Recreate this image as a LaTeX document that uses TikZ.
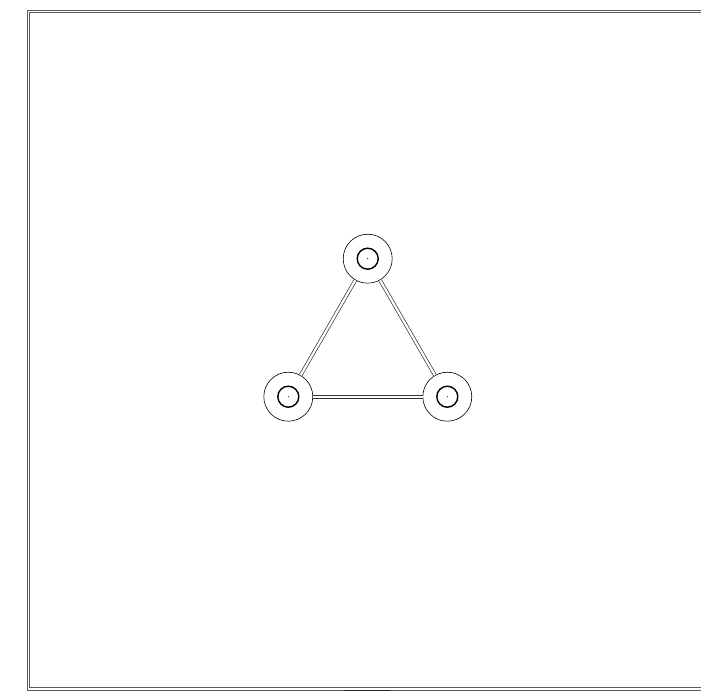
\documentclass[tikz,border=0pt]{standalone}
\tikzset{every picture/.style={line width=0.75pt}}
\tikzset{
  station/.style={circle, draw, line width=0.6pt, minimum size=49pt, inner sep=0pt},
  hub/.style={circle, draw, line width=1.4pt, minimum size=21pt, inner sep=0pt},
  link/.style={double, double distance=2.2pt, line width=0.7pt, draw=black!80},
  rim/.style={line width=0.9pt, draw=black!65}
}
\begin{document}
\begin{tikzpicture}[x=1pt, y=-1pt]
    \useasboundingbox (0,0) rectangle (701,698);
    % outer frame
    \draw[rim] (701,10) -- (27.3,10) -- (27.3,690) -- (701,690);
    \draw[rim] (701,12.2) -- (29.5,12.2) -- (29.5,687.8) -- (701,687.8);
    \draw[line width=1.3pt, black!85] (344,690.5) -- (390,690.5);
    % stations
    \node[station] (top) at (367.7,258.7) {};
    \node[station] (left) at (288.3,396.7) {};
    \node[station] (right) at (447.3,396.7) {};
    \foreach \s in {top, left, right} {
        \node[hub] at (\s) {};
        \fill (\s) circle (0.6pt);
    }
    % tracks
    \draw[link] (top) -- (left);
    \draw[link] (top) -- (right);
    \draw[link] (left) -- (right);
\end{tikzpicture}
\end{document}
